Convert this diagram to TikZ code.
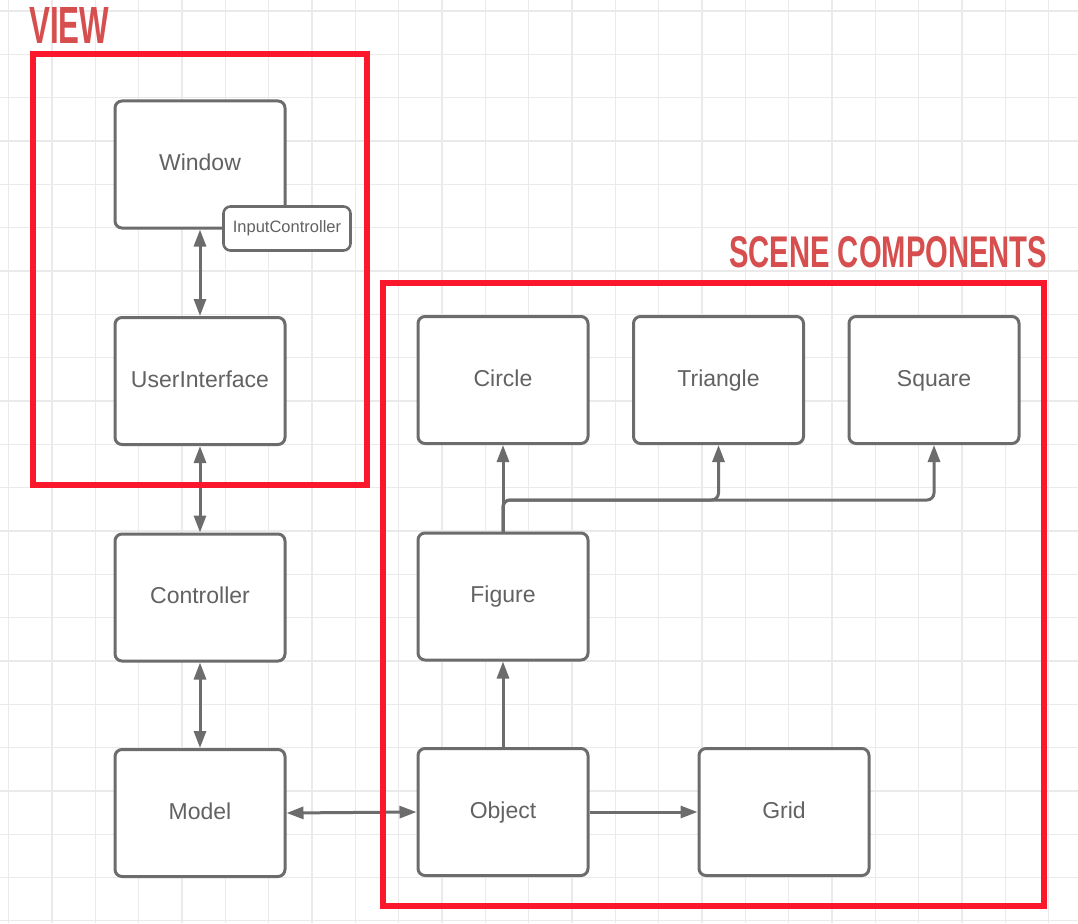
\documentclass[tikz,border=0pt]{standalone}
\usepackage{fontspec}
\usepackage{graphicx}
\setmainfont{Liberation Sans}
\usetikzlibrary{arrows.meta}
\definecolor{gridgray}{RGB}{234,234,234}
\definecolor{boxgray}{RGB}{108,108,108}
\definecolor{txtgray}{RGB}{98,98,98}
\definecolor{framered}{RGB}{252,24,44}
\definecolor{titlered}{RGB}{214,78,78}
\tikzset{
  box/.style={draw=boxgray, line width=3pt, rounded corners=7pt, fill=white,
    minimum width=170pt, minimum height=127pt, inner sep=0pt, text=txtgray,
    text height=16.5pt, text depth=4.5pt,
    font=\fontsize{23}{27}\selectfont},
  smallbox/.style={draw=boxgray, line width=2.6pt, rounded corners=7pt, fill=white,
    minimum width=127pt, minimum height=44pt, inner sep=0pt, text=txtgray,
    text height=12pt, text depth=3.2pt,
    font=\fontsize{16.5}{20}\selectfont},
  conn/.style={draw=boxgray, line width=3pt, -{Triangle[length=17pt,width=12pt]}},
  biconn/.style={draw=boxgray, line width=3pt, {Triangle[length=17pt,width=12pt]}-{Triangle[length=17pt,width=12pt]}},
  frame/.style={draw=framered, line width=6pt},
  title/.style={text=titlered, inner sep=0pt, anchor=north west, font=\bfseries}
}
\begin{document}
\begin{tikzpicture}[x=1pt,y=-1pt]
\useasboundingbox (0,0) rectangle (1078,923);
\fill[white] (0,0) rectangle (1078,923);
% grid
\foreach \i in {0,...,24} {
  \draw[gridgray, line width=1.1pt] ({8.7+43.33*\i},0) -- ({8.7+43.33*\i},923);
}
\foreach \j in {0,...,21} {
  \draw[gridgray, line width=1.1pt] (0,{11+43.33*\j}) -- (1078,{11+43.33*\j});
}
% titles
\node[title] (viewtitle) at (29,7) {\resizebox{80pt}{36pt}{VIEW}};
\node[title] (scenetitle) at (729,236.5) {\resizebox{318pt}{31pt}{SCENE COMPONENTS}};
% boxes
\node[box] (Window) at (200,164.5) {Window};
\node[smallbox] (InputController) at (287,228.5) {InputController};
\node[box] (UserInterface) at (200,381) {UserInterface};
\node[box] (Controller) at (200,597.5) {Controller};
\node[box] (Model) at (200,813) {Model};
\node[box] (Circle) at (503,380) {Circle};
\node[box] (Triangle) at (718.5,380) {Triangle};
\node[box] (Square) at (934,380) {Square};
\node[box] (Figure) at (503,596.5) {Figure};
\node[box] (Object) at (503,812) {Object};
\node[box] (Grid) at (784,812) {Grid};
% connectors
\draw[biconn] (Window.south) -- (UserInterface.north);
\draw[biconn] (UserInterface.south) -- (Controller.north);
\draw[biconn] (Controller.south) -- (Model.north);
\draw[biconn] (Model.east) -- (Object.west);
\draw[conn] (Object.east) -- (Grid.west);
\draw[conn] (Object.north) -- (Figure.south);
\draw[conn] (Figure.north) -- (Circle.south);
\coordinate (branch) at (503,500);
\draw[conn, rounded corners=7pt] (Figure.north) -- (branch) -| (Triangle.south);
\draw[conn, rounded corners=7pt] (Figure.north) -- (branch) -| (Square.south);
% frames
\draw[frame] (33,54) rectangle (367,485);
\draw[frame] (383,282.5) rectangle (1044,906);
\end{tikzpicture}
\end{document}
